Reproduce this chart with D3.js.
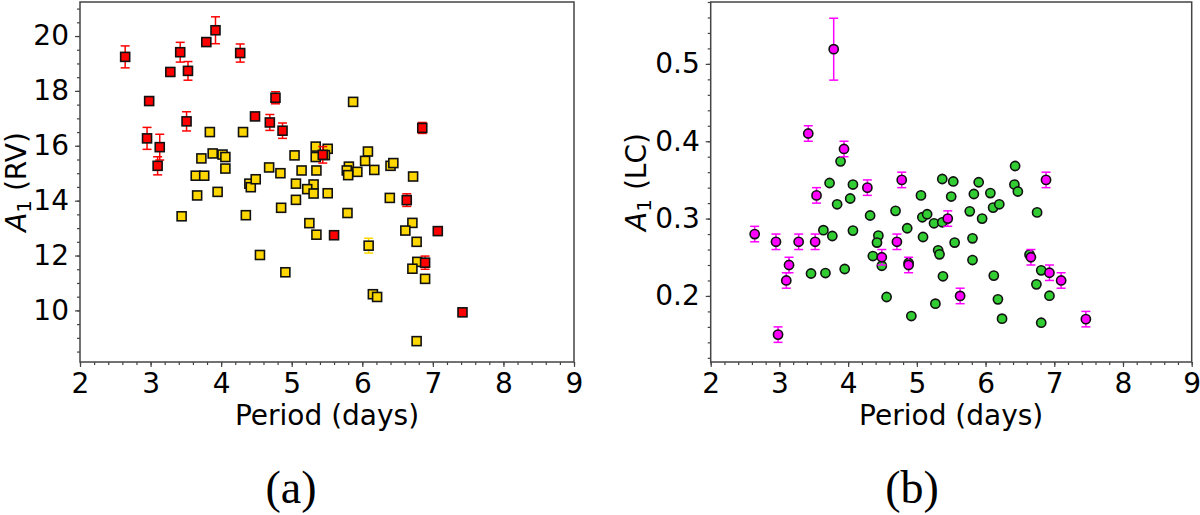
<!DOCTYPE html>
<html>
<head>
<meta charset="utf-8">
<script src="https://cdn.jsdelivr.net/npm/d3@7"></script>
<style>
  body { margin: 0; background: #fff; }
  svg { display: block; }
  .tick text { font-family: "DejaVu Sans", sans-serif; }
</style>
</head>
<body>
<div id="chart"></div>
<script>
// panel (a): RV amplitude vs period  [period, A1, err]
const rvOther = [
  [3.84, 16.50, 0], [4.31, 16.50, 0], [3.72, 15.54, 0], [3.88, 15.72, 0], [4.02, 15.68, 0],
  [4.06, 15.59, 0], [4.06, 15.17, 0], [4.68, 15.21, 0], [4.84, 15.00, 0], [5.04, 15.65, 0],
  [5.14, 15.10, 0], [5.34, 15.97, 0], [5.34, 15.59, 0], [5.35, 15.10, 0], [3.64, 14.91, 0],
  [3.76, 14.91, 0], [3.66, 14.19, 0], [3.95, 14.32, 0], [3.44, 13.43, 0], [4.35, 13.47, 0],
  [4.40, 14.62, 0], [4.42, 14.49, 0], [4.49, 14.78, 0], [5.06, 14.62, 0], [5.06, 14.03, 0],
  [4.85, 13.74, 0], [5.31, 14.59, 0], [5.22, 14.42, 0], [5.31, 14.26, 0], [5.25, 13.18, 0],
  [5.35, 12.76, 0], [4.55, 12.02, 0], [4.91, 11.39, 0], [5.87, 17.60, 0], [5.51, 15.89, 0],
  [5.47, 15.66, 0], [6.08, 15.79, 0], [6.04, 15.45, 0], [5.81, 15.24, 0], [5.78, 15.10, 0],
  [5.93, 15.05, 0], [6.17, 15.12, 0], [6.40, 15.27, 0], [6.44, 15.37, 0], [6.72, 14.88, 0],
  [5.80, 14.93, 0], [5.51, 14.27, 0], [5.79, 13.55, 0], [6.39, 14.10, 0], [6.71, 13.19, 0],
  [6.61, 12.91, 0], [6.77, 12.50, 0], [6.09, 12.36, 0.27], [6.78, 11.77, 0], [6.71, 11.52, 0],
  [6.89, 11.15, 0], [6.15, 10.59, 0], [6.21, 10.49, 0], [6.77, 8.88, 0]
];
const rvSelected = [
  [2.64, 19.24, 0.40], [2.98, 17.63, 0.08], [2.95, 16.27, 0.40], [3.13, 15.95, 0.47],
  [3.10, 15.27, 0.33], [3.28, 18.69, 0.08], [3.42, 19.41, 0.36], [3.53, 18.73, 0.34],
  [3.51, 16.89, 0.35], [3.79, 19.78, 0.08], [3.92, 20.21, 0.49], [4.27, 19.38, 0.33],
  [4.48, 17.07, 0.10], [4.69, 16.85, 0.29], [4.77, 17.75, 0.22], [4.87, 16.55, 0.28],
  [6.85, 16.65, 0.20], [5.44, 15.67, 0.30], [6.63, 14.02, 0.23], [5.60, 12.74, 0.08],
  [7.07, 12.89, 0.08], [6.89, 11.74, 0.24], [7.42, 9.93, 0.08]
];

// panel (b): LC amplitude vs period  [period, A1, err]
const lcOther = [
  [3.89, 0.374], [3.73, 0.346], [4.07, 0.344], [4.03, 0.326], [3.84, 0.3185], [4.32, 0.304],
  [4.69, 0.310], [3.64, 0.285], [3.77, 0.2775], [4.07, 0.2845], [4.44, 0.278], [4.42, 0.269],
  [4.36, 0.2516], [4.49, 0.239], [3.46, 0.229], [3.67, 0.2296], [3.95, 0.2348], [4.56, 0.1986],
  [4.92, 0.174], [4.86, 0.2875], [4.88, 0.2426], [5.06, 0.330], [5.08, 0.3017], [5.15, 0.3056],
  [5.09, 0.2762], [5.25, 0.2939], [5.37, 0.3512], [5.53, 0.348], [5.37, 0.2952], [5.31, 0.259],
  [5.33, 0.2538], [5.38, 0.2254], [5.27, 0.190], [5.50, 0.3285], [5.90, 0.347], [6.43, 0.368],
  [6.42, 0.344], [6.47, 0.335], [5.83, 0.3318], [6.07, 0.333], [5.77, 0.3094], [5.95, 0.300],
  [6.11, 0.3142], [6.20, 0.3185], [6.75, 0.308], [5.55, 0.269], [5.81, 0.2745], [5.81, 0.2464],
  [6.12, 0.2263], [6.64, 0.2534], [6.81, 0.2331], [6.74, 0.215], [6.93, 0.2003], [6.18, 0.1956],
  [6.24, 0.1706], [6.81, 0.1654]
];
const lcSelected = [
  [3.79, 0.519, 0.040], [3.42, 0.410, 0.010], [3.94, 0.390, 0.010], [4.28, 0.340, 0.010],
  [4.78, 0.350, 0.010], [3.54, 0.330, 0.010], [2.64, 0.280, 0.010], [2.95, 0.270, 0.010],
  [3.28, 0.270, 0.010], [3.52, 0.270, 0.010], [3.14, 0.240, 0.010], [3.10, 0.220, 0.010],
  [2.98, 0.150, 0.010], [4.49, 0.250, 0.010], [4.71, 0.270, 0.010], [4.88, 0.240, 0.010],
  [5.45, 0.300, 0.010], [6.88, 0.350, 0.010], [6.66, 0.250, 0.010], [6.93, 0.230, 0.010],
  [7.10, 0.220, 0.010], [5.63, 0.200, 0.010], [7.46, 0.170, 0.010]
];

const xTicks = [2, 3, 4, 5, 6, 7, 8, 9];
const rvTicks = [10, 12, 14, 16, 18, 20];
const lcTicks = [0.2, 0.3, 0.4, 0.5];

const svg = d3.select("#chart").append("svg")
  .attr("width", 1200)
  .attr("height", 515);

function drawPanel(p) {
  const g = svg.append("g");
  const x = d3.scaleLinear().domain([2, 9]).range([p.left, p.right]);
  const y = d3.scaleLinear().domain(p.yDomain).range([362, 2]);

  // minor ticks
  g.append("g")
    .attr("transform", "translate(0,362)")
    .call(d3.axisBottom(x).tickValues(d3.range(2, 9.001, 0.2)).tickSize(3).tickFormat(""))
    .call(a => a.select(".domain").remove());
  g.append("g")
    .attr("transform", `translate(${p.left},0)`)
    .call(d3.axisLeft(y).tickValues(p.yMinor).tickSize(3).tickFormat(""))
    .call(a => a.select(".domain").remove());

  // major ticks
  g.append("g")
    .attr("transform", "translate(0,362)")
    .call(d3.axisBottom(x).tickValues(xTicks).tickSize(5).tickPadding(6).tickFormat(d3.format("d")))
    .call(a => a.select(".domain").remove())
    .call(a => a.selectAll("text").attr("font-size", 28).attr("fill", "#000"));
  g.append("g")
    .attr("transform", `translate(${p.left},0)`)
    .call(d3.axisLeft(y).tickValues(p.yTicks).tickSize(5).tickPadding(6).tickFormat(p.yFormat))
    .call(a => a.select(".domain").remove())
    .call(a => a.selectAll("text").attr("font-size", 28).attr("fill", "#000"));
  g.selectAll(".tick line").attr("stroke", "#444").attr("stroke-width", 1.2);

  // frame
  g.append("rect")
    .attr("x", p.left).attr("y", 2)
    .attr("width", p.right - p.left).attr("height", 360)
    .attr("fill", "none").attr("stroke", "#444").attr("stroke-width", 1.5);

  // axis labels
  g.append("text")
    .attr("x", (p.left + p.right) / 2).attr("y", 425)
    .attr("text-anchor", "middle")
    .style("font-family", "DejaVu Sans").style("font-size", "28px")
    .text("Period (days)");

  const yl = g.append("text")
    .attr("transform", `translate(${p.ylabelX},182) rotate(-90)`)
    .attr("text-anchor", "middle")
    .style("font-family", "DejaVu Sans").style("font-size", "28px");
  yl.append("tspan").style("font-style", "italic").text("A");
  yl.append("tspan").attr("dy", 5).style("font-size", "20px").text("1");
  yl.append("tspan").attr("dy", -5).text(" " + p.ylabel);

  // panel letter
  svg.append("text")
    .attr("x", p.letterX).attr("y", 503)
    .attr("text-anchor", "middle")
    .style("font-family", "Liberation Serif, serif").style("font-size", "46px")
    .text(p.letter);

  // series: base first, selected on top
  p.series.forEach(s => {
    const withErr = s.data.filter(d => d[2] > 0);
    const eb = g.append("g")
      .attr("stroke", s.errColor).attr("stroke-width", 1.5);
    eb.selectAll("line.v").data(withErr).join("line")
      .attr("x1", d => x(d[0])).attr("x2", d => x(d[0]))
      .attr("y1", d => y(d[1] - d[2])).attr("y2", d => y(d[1] + d[2]));
    eb.selectAll("line.top").data(withErr).join("line")
      .attr("x1", d => x(d[0]) - 4.5).attr("x2", d => x(d[0]) + 4.5)
      .attr("y1", d => y(d[1] + d[2])).attr("y2", d => y(d[1] + d[2]));
    eb.selectAll("line.bot").data(withErr).join("line")
      .attr("x1", d => x(d[0]) - 4.5).attr("x2", d => x(d[0]) + 4.5)
      .attr("y1", d => y(d[1] - d[2])).attr("y2", d => y(d[1] - d[2]));

    const m = g.append("g");
    if (s.shape === "square") {
      m.selectAll("rect").data(s.data).join("rect")
        .attr("x", d => x(d[0]) - 4.5).attr("y", d => y(d[1]) - 4.5)
        .attr("width", 9).attr("height", 9)
        .attr("fill", s.fill).attr("stroke", "#111").attr("stroke-width", 1.6);
    } else {
      m.selectAll("circle").data(s.data).join("circle")
        .attr("cx", d => x(d[0])).attr("cy", d => y(d[1]))
        .attr("r", 4.6)
        .attr("fill", s.fill).attr("stroke", "#111").attr("stroke-width", 1.6);
    }
  });
}

drawPanel({
  left: 80, right: 574,
  yDomain: [8.12, 21.24],
  yTicks: rvTicks,
  yMinor: d3.range(8.5, 21.01, 0.5),
  yFormat: d3.format("d"),
  ylabel: "(RV)", ylabelX: 26,
  letter: "(a)", letterX: 291,
  series: [
    { data: rvOther, shape: "square", fill: "#ffd700", errColor: "#ffd700" },
    { data: rvSelected, shape: "square", fill: "#ff0000", errColor: "#ff0000" }
  ]
});

drawPanel({
  left: 710.7, right: 1191.7,
  yDomain: [0.1146, 0.58],
  yTicks: lcTicks,
  yMinor: d3.range(0.12, 0.581, 0.02),
  yFormat: d3.format(".1f"),
  ylabel: "(LC)", ylabelX: 646,
  letter: "(b)", letterX: 912,
  series: [
    { data: lcOther.map(d => [d[0], d[1], 0]), shape: "circle", fill: "#32cd32", errColor: "#32cd32" },
    { data: lcSelected, shape: "circle", fill: "#ff00ff", errColor: "#ff00ff" }
  ]
});
</script>
</body>
</html>
